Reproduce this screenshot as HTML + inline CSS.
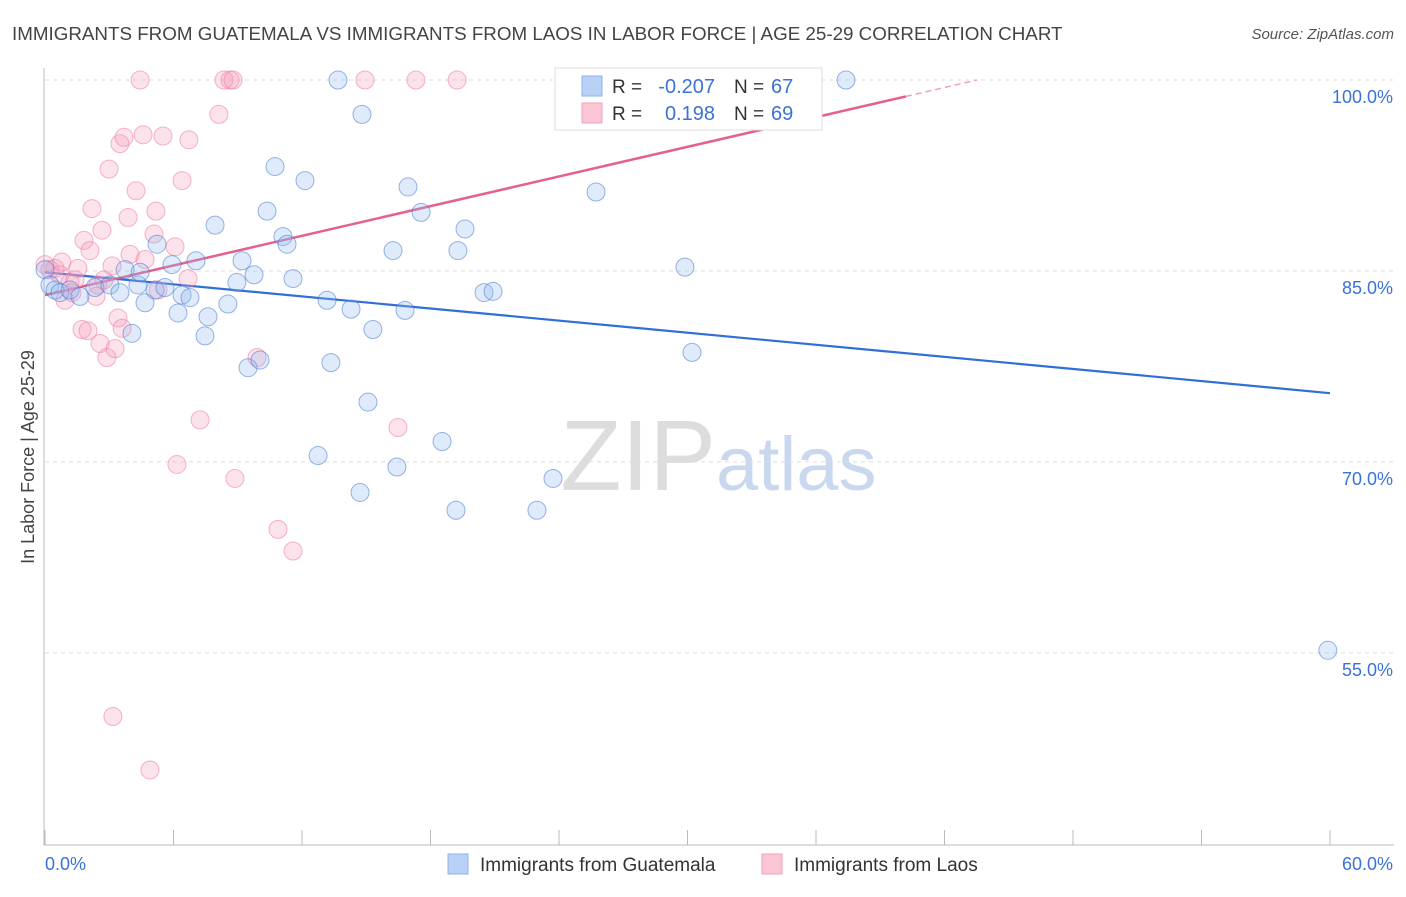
<!DOCTYPE html>
<html><head><meta charset="utf-8"><style>
body{margin:0;background:#fff;font-family:"Liberation Sans",sans-serif;}
svg text{font-family:"Liberation Sans",sans-serif;}
</style></head><body>
<svg id="c" width="1406" height="892">
<text x="12" y="40" font-size="18.8" fill="#444">IMMIGRANTS FROM GUATEMALA VS IMMIGRANTS FROM LAOS IN LABOR FORCE | AGE 25-29 CORRELATION CHART</text>
<text x="1394" y="39" font-size="15" fill="#555" font-style="italic" text-anchor="end">Source: ZipAtlas.com</text>
<text x="716" y="490" font-size="100" fill="#ddd" text-anchor="end" font-family="Liberation Serif">ZIP</text>
<text x="716" y="490" font-size="76" fill="#c9d8ef">atlas</text>
<text transform="translate(34,457) rotate(-90)" font-size="18" fill="#444" text-anchor="middle">In Labor Force | Age 25-29</text>
<g id="grid"></g><g id="lines"></g><g id="pts"></g>
<g>
<rect x="555" y="68" width="267" height="62" fill="#fff" stroke="#ddd"/>
<rect x="582" y="76" width="20" height="20" fill="#b9d1f5" stroke="#8fb3ea"/>
<rect x="582" y="103" width="20" height="20" fill="#fac6d6" stroke="#f0a0ba"/>
<text x="612" y="93" font-size="19" fill="#333">R = </text><text x="715" y="93" font-size="20" fill="#3a72d8" text-anchor="end">-0.207</text>
<text x="734" y="93" font-size="19" fill="#333">N = </text><text x="771" y="93" font-size="20" fill="#3a72d8">67</text>
<text x="612" y="120" font-size="19" fill="#333">R = </text><text x="715" y="120" font-size="20" fill="#3a72d8" text-anchor="end">0.198</text>
<text x="734" y="120" font-size="19" fill="#333">N = </text><text x="771" y="120" font-size="20" fill="#3a72d8">69</text>
</g>
<g>
<rect x="448" y="854" width="20" height="20" fill="#b9d1f5" stroke="#8fb3ea"/>
<text x="480" y="871" font-size="19" fill="#333">Immigrants from Guatemala</text>
<rect x="762" y="854" width="20" height="20" fill="#fac6d6" stroke="#f0a0ba"/>
<text x="794" y="871" font-size="19" fill="#333">Immigrants from Laos</text>
</g>
<text x="45" y="870" font-size="18" fill="#3a72d8">0.0%</text>
<text x="1393" y="870" font-size="18" fill="#3a72d8" text-anchor="end">60.0%</text>
</svg>
<script>
const yTicks=[100,85,70,55];
const blueX=[0,0.23,0.47,0.70,1.17,1.63,2.33,3.03,3.50,3.74,4.06,4.34,4.44,4.67,5.14,5.23,5.60,5.93,6.21,6.40,6.77,7.05,7.47,7.61,7.94,8.54,8.96,9.20,9.48,9.76,10.04,10.37,10.74,11.11,11.30,11.58,12.14,12.75,13.17,13.35,13.68,14.29,14.71,14.80,15.08,15.31,16.25,16.43,16.81,16.95,17.56,18.54,19.19,19.28,19.61,20.50,20.92,22.97,23.72,25.73,29.88,30.21,37.40,59.90];
const blueY=[85.1,83.9,83.5,83.3,83.5,83.0,83.7,83.9,83.3,85.1,80.1,83.9,84.9,82.5,83.5,87.1,83.7,85.5,81.7,83.1,82.9,85.8,79.9,81.4,88.6,82.4,84.1,85.8,77.4,84.7,78.0,89.7,93.2,87.7,87.1,84.4,92.1,70.5,82.7,77.8,100,82.0,67.6,97.3,74.7,80.4,86.6,69.6,81.9,91.6,89.6,71.6,66.2,86.6,88.3,83.3,83.4,66.2,68.7,91.2,85.3,78.6,100,55.2];
const pinkX=[0,0.23,0.47,0.70,0.79,0.93,1.17,1.26,1.40,1.54,1.73,1.82,2.01,2.10,2.19,2.38,2.47,2.57,2.66,2.75,2.89,2.99,3.13,3.27,3.41,3.50,3.60,3.69,3.88,3.97,4.25,4.44,4.58,4.67,4.90,5.09,5.18,5.28,5.51,6.07,6.16,6.40,6.68,6.72,7.24,8.12,8.36,8.64,8.78,8.87,9.90,10.88,11.58,14.94,16.48,17.32,19.24,3.17,32.45];
const pinkY=[85.5,85.1,85.2,84.7,85.7,82.7,84.1,83.3,84.3,85.2,80.4,87.4,80.3,86.6,89.9,83.0,83.9,79.3,88.2,84.3,78.2,93.0,85.4,78.9,81.3,95.0,80.5,95.5,89.2,86.3,91.3,100,95.7,85.9,45.8,87.9,89.7,83.5,95.6,86.9,69.8,92.1,84.4,95.3,73.3,97.3,100,100,100,68.7,78.2,64.7,63.0,100,72.7,100,100,50.0,100];
const blueLine=[84.9,75.4];
const pinkLine=[83.1,106.4];
const pinkSolidEnd=40.2;
const X=v=>45+v/60*1285, Y=v=>80+(100-v)*12.73;
const ns='http://www.w3.org/2000/svg';
function mk(t,a,p){const e=document.createElementNS(ns,t);for(const k in a)e.setAttribute(k,a[k]);p.appendChild(e);return e;}
const grid=document.getElementById('grid');
mk('line',{x1:44,y1:68,x2:44,y2:845,stroke:'#bbb'},grid);
mk('line',{x1:44,y1:845,x2:1394,y2:845,stroke:'#bbb'},grid);
for(let i=0;i<=10;i++){const x=45+i*128.5;const l=mk('line',{x1:x,y1:830,x2:x,y2:845,stroke:'#bbb'},grid);

}
yTicks.forEach(t=>{const l=mk('line',{x1:45,y1:Y(t),x2:1394,y2:Y(t),stroke:'#ddd','stroke-dasharray':'4,4'},grid);


const tx=mk('text',{x:1393,y:Y(t)+23,'font-size':18,fill:'#3a72d8','text-anchor':'end'},grid);tx.textContent=t.toFixed(1)+'%';

});
const pts=document.getElementById('pts');
pinkX.forEach((x,i)=>{const c=mk('circle',{cx:X(x),cy:Y(pinkY[i]),r:9,fill:'rgba(246,160,190,0.3)',stroke:'rgba(236,120,160,0.55)','stroke-width':1},pts);

});
blueX.forEach((x,i)=>{const c=mk('circle',{cx:X(x),cy:Y(blueY[i]),r:9,fill:'rgba(150,185,240,0.3)',stroke:'rgba(70,120,210,0.55)','stroke-width':1},pts);

});
const lines=document.getElementById('lines');
const bl=mk('line',{x1:X(0),y1:Y(blueLine[0]),x2:X(60),y2:Y(blueLine[1]),stroke:'#2f6fd6','stroke-width':2.2},lines);


const pv=x=>pinkLine[0]+(pinkLine[1]-pinkLine[0])*x/60;
const pl=mk('line',{x1:X(0),y1:Y(pv(0)),x2:X(pinkSolidEnd),y2:Y(pv(pinkSolidEnd)),stroke:'#e5608f','stroke-width':2.5},lines);


const xe=(100-pinkLine[0])/(pinkLine[1]-pinkLine[0])*60;
const pd=mk('line',{x1:X(pinkSolidEnd),y1:Y(pv(pinkSolidEnd)),x2:X(xe),y2:Y(pv(xe)),stroke:'#f0a0ba','stroke-width':1.5,'stroke-dasharray':'6,4'},lines);


</script>
</body></html>
